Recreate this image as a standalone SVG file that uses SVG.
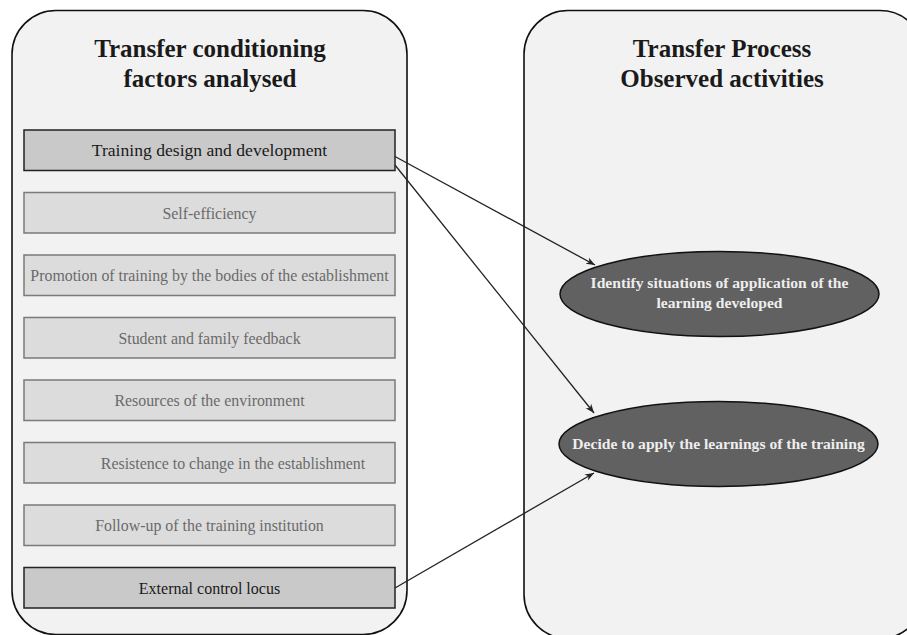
<svg xmlns="http://www.w3.org/2000/svg" width="907" height="635" viewBox="0 0 907 635">
<style>
.panel{fill:#f2f2f2;stroke:#111;stroke-width:1.6}
.title{font-family:"Liberation Serif",serif;font-weight:bold;font-size:25px;fill:#1a1a1a;text-anchor:middle}
.boxk{fill:#c9c9c9;stroke:#222;stroke-width:1.5}
.boxg{fill:#dcdcdc;stroke:#7a7a7a;stroke-width:1.5}
.tk{font-family:"Liberation Serif",serif;font-size:16px;fill:#1a1a1a;text-anchor:middle}
.tg{font-family:"Liberation Serif",serif;font-size:15.9px;fill:#6a6a6a;text-anchor:middle}
.ell{fill:#616161;stroke:#111;stroke-width:1.5}
.te{font-family:"Liberation Serif",serif;font-weight:bold;font-size:15.6px;fill:#eeeeee;text-anchor:middle}
.conn{stroke:#222;stroke-width:1.3;fill:none;marker-end:url(#arr)}
</style>
<defs>
<marker id="arr" viewBox="0 0 10 10" refX="10" refY="5" markerWidth="9" markerHeight="9" markerUnits="userSpaceOnUse" orient="auto">
<path d="M0,1 L10,5 L0,9 L3,5 Z" fill="#222"/>
</marker>
</defs>
<rect width="907" height="635" fill="#ffffff"/>
<g id="panel-left">
<rect class="panel" x="12" y="10.5" width="395" height="624" rx="44" ry="44"/>
<text class="title" x="210" y="57">Transfer conditioning</text>
<text class="title" x="210" y="87">factors analysed</text>
</g>
<g id="panel-right">
<rect class="panel" x="524" y="10.5" width="400" height="628" rx="44" ry="44"/>
<text class="title" x="722" y="57">Transfer Process</text>
<text class="title" x="722" y="87">Observed activities</text>
</g>
<g id="n1"><rect class="boxk" x="24" y="130" width="371" height="40.5"/><text class="tk" x="209.5" y="156" style="font-size:17.6px">Training design and development</text></g>
<g id="n2"><rect class="boxg" x="24" y="192.5" width="371" height="40.5"/><text class="tg" x="209.5" y="218.5">Self-efficiency</text></g>
<g id="n3"><rect class="boxg" x="24" y="255" width="371" height="40.5"/><text class="tg" x="209.5" y="281">Promotion of training by the bodies of the establishment</text></g>
<g id="n4"><rect class="boxg" x="24" y="317.5" width="371" height="40.5"/><text class="tg" x="209.5" y="343.5">Student and family feedback</text></g>
<g id="n5"><rect class="boxg" x="24" y="380" width="371" height="40.5"/><text class="tg" x="209.5" y="406">Resources of the environment</text></g>
<g id="n6"><rect class="boxg" x="24" y="442.5" width="371" height="40.5"/><text class="tg" x="233" y="468.5">Resistence to change in the establishment</text></g>
<g id="n7"><rect class="boxg" x="24" y="505" width="371" height="40.5"/><text class="tg" x="209.5" y="531">Follow-up of the training institution</text></g>
<g id="n8"><rect class="boxk" x="24" y="567.5" width="371" height="40.5"/><text class="tk" x="209.5" y="593.5">External control locus</text></g>
<g id="e1"><ellipse class="ell" cx="719.5" cy="294" rx="159.5" ry="42.5"/><text class="te" x="719.5" y="288">Identify situations of application of the</text><text class="te" x="719.5" y="308">learning developed</text></g>
<g id="e2"><ellipse class="ell" cx="718.5" cy="444" rx="159.5" ry="42.5"/><text class="te" x="718.5" y="449">Decide to apply the learnings of the training</text></g>
<g id="connectors">
<line class="conn" x1="395" y1="156.5" x2="595" y2="265"/>
<line class="conn" x1="395" y1="165" x2="594" y2="413"/>
<line class="conn" x1="395" y1="588" x2="594" y2="473"/>
</g>
</svg>
